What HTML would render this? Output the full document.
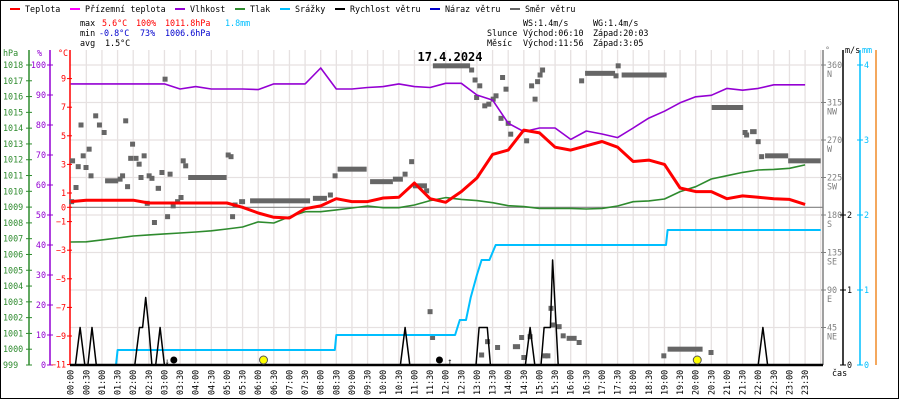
<!DOCTYPE html>
<html><head><meta charset="utf-8">
<style>
html,body{margin:0;padding:0;background:#fff;}
svg{display:block;font-family:"DejaVu Sans Mono","Liberation Mono",monospace;}
text{font-size:8.4px;}
</style></head>
<body>
<svg id="chart" width="900" height="400" viewBox="0 0 900 400" xmlns="http://www.w3.org/2000/svg">
<rect x="0.5" y="0.5" width="898" height="398" fill="#fff" stroke="#000"/>
<g id="grid"></g>
<g id="axes"></g>
<g id="series"></g>
<g id="header">
  <g>
    <g><rect x="10" y="8" width="10" height="2" fill="#f00"/><text x="25" y="12">Teplota</text></g>
    <g><rect x="70" y="8" width="10" height="2" fill="#f0f"/><text x="85" y="12">Přízemní teplota</text></g>
    <g><rect x="175" y="8" width="10" height="2" fill="#9400d3"/><text x="190" y="12">Vlhkost</text></g>
    <g><rect x="235" y="8" width="10" height="2" fill="#2e8b2e"/><text x="250" y="12">Tlak</text></g>
    <g><rect x="280" y="8" width="10" height="2" fill="#00bfff"/><text x="295" y="12">Srážky</text></g>
    <g><rect x="335" y="8" width="10" height="2" fill="#000"/><text x="350" y="12">Rychlost větru</text></g>
    <g><rect x="430" y="8" width="10" height="2" fill="#0000cd"/><text x="445" y="12">Náraz větru</text></g>
    <g><rect x="510" y="8" width="10" height="2" fill="#666"/><text x="525" y="12">Směr větru</text></g>
  </g>
  <g>
    <text x="80" y="26">max</text><text x="102" y="26" fill="#f00">5.6°C</text><text x="136" y="26" fill="#f00">100%</text><text x="165" y="26" fill="#f00">1011.8hPa</text><text x="225" y="26" fill="#00bfff">1.8mm</text>
    <text x="80" y="36">min</text><text x="99" y="36" fill="#0000cd">-0.8°C</text><text x="140" y="36" fill="#0000cd">73%</text><text x="165" y="36" fill="#0000cd">1006.6hPa</text>
    <text x="80" y="46">avg</text><text x="105" y="46">1.5°C</text>
  </g>
  <g>
    <text x="523" y="26">WS:1.4m/s</text><text x="593" y="26">WG:1.4m/s</text>
    <text x="487" y="36">Slunce</text><text x="523" y="36">Východ:06:10</text><text x="593" y="36">Západ:20:03</text>
    <text x="487" y="46">Měsíc</text><text x="523" y="46">Východ:11:56</text><text x="593" y="46">Západ:3:05</text>
  </g>
  <text x="450" y="61" text-anchor="middle" style="font-size:12px;font-weight:bold">17.4.2024</text>
</g>
</svg>
<script>
// ---- data (half-hourly, 00:00 .. 23:30) ----
const hours = [0,0.5,1,1.5,2,2.5,3,3.5,4,4.5,5,5.5,6,6.5,7,7.5,8,8.5,9,9.5,10,10.5,11,11.5,12,12.5,13,13.5,14,14.5,15,15.5,16,16.5,17,17.5,18,18.5,19,19.5,20,20.5,21,21.5,22,22.5,23,23.5];
const temperature = [0.4,0.5,0.5,0.5,0.5,0.3,0.3,0.3,0.3,0.3,0.3,0.0,-0.4,-0.7,-0.75,-0.1,0.1,0.6,0.4,0.4,0.65,0.7,1.7,0.6,0.35,1.1,2.05,3.7,4.0,5.4,5.2,4.2,4.0,4.3,4.6,4.2,3.2,3.3,3.0,1.35,1.1,1.1,0.6,0.8,0.7,0.6,0.55,0.2];
const humidity = [93.7,93.7,93.7,93.7,93.7,93.7,93.7,92,92.8,92,92,92,91.8,93.7,93.7,93.7,99,92,92,92.5,92.8,93.7,92.8,92.5,93.9,93.9,90,88.3,80.6,77.8,79,79,75.2,78,77,75.8,79,82.3,84.6,87.4,89.4,89.9,92.2,91.6,92.2,93.4,93.4,93.4];
const pressure = [1006.79,1006.8,1006.92,1007.04,1007.17,1007.24,1007.3,1007.36,1007.42,1007.5,1007.61,1007.74,1008.06,1007.99,1008.39,1008.71,1008.71,1008.82,1008.94,1009.07,1008.96,1008.96,1009.13,1009.41,1009.6,1009.49,1009.41,1009.28,1009.09,1009.03,1008.92,1008.92,1008.92,1008.88,1008.92,1009.07,1009.34,1009.39,1009.51,1009.98,1010.29,1010.78,1010.99,1011.2,1011.35,1011.39,1011.46,1011.67];
const precipTimes = [0,1.45,1.5,8.45,8.5,12.3,12.45,12.65,12.8,13.0,13.15,13.4,13.6,19.05,19.1,24];
const precipValues = [0,0,0.2,0.2,0.4,0.4,0.6,0.6,0.9,1.2,1.4,1.4,1.6,1.6,1.8,1.8];
const windTimes = [0,0.15,0.3,0.45,0.55,0.68,0.82,2.05,2.2,2.3,2.4,2.5,2.6,2.72,2.86,3.0,10.55,10.7,10.85,12.97,13.07,13.33,13.43,14.55,14.7,14.85,15.05,15.15,15.35,15.42,15.6,22.0,22.15,22.3,24];
const windValues = [0,0,0.5,0,0,0.5,0,0,0.5,0.5,0.9,0.5,0,0,0.5,0,0,0.5,0,0,0.5,0.5,0,0,0.5,0,0,0.5,0.5,1.4,0,0,0.5,0,0];
const dirTimes = [0.03,0.06,0.17,0.24,0.33,0.40,0.49,0.59,0.65,0.92,1.58,1.66,1.76,1.82,1.92,1.98,2.09,2.19,2.25,2.35,2.45,2.51,2.60,2.68,2.92,3.02,3.10,3.18,3.28,3.53,3.60,3.68,5.04,5.13,5.18,5.26,8.46,10.70,10.91,11.39,12.83,12.94,12.99,13.09,13.25,13.38,13.52,13.61,13.77,13.82,13.93,14.00,14.08,14.59,14.75,14.86,14.94,15.02,15.10,16.35,17.45,17.52,21.58,21.63,22.0,22.11,11.5,11.58,13.15,13.34,13.66,14.43,14.5,14.7,15.18,15.27,15.37,15.42,15.76,16.27,18.98,20.49];
const dirDegrees = [196,245,213,238,288,251,237,259,227,288,223,227,293,214,248,265,248,241,225,251,194,227,224,171,231,343,178,229,191,201,245,239,252,250,178,192,227,229,244,209,354,342,321,335,311,313,319,323,296,345,331,290,277,269,335,319,340,348,354,341,347,359,279,276,268,250,64,33,12,28,21,33,9,34,11,11,68,48,35,27,11,15];
const dirRunStart = [0.72,0.99,1.10,2.72,3.34,3.76,5.39,5.74,7.75,8.23,8.54,9.58,10.31,10.95,11.59,16.46,17.63,20.51,21.74,22.22,22.96,15.55,15.87,14.15,19.1];
const dirRunEnd = [0.88,1.15,1.52,2.89,3.50,4.99,5.58,7.66,8.20,8.39,9.47,10.31,10.63,11.40,12.78,17.42,19.07,21.52,21.95,22.96,24.0,15.71,16.19,14.38,20.22];
const dirRunDeg = [299,279,221,212,196,225,196,197,200,204,235,220,223,215,359,350,348,309,280,251,245,46,32,22,19];
const timeLabels = ["00:00","00:30","01:00","01:30","02:00","02:30","03:00","03:30","04:00","04:30","05:00","05:30","06:00","06:30","07:00","07:30","08:00","08:30","09:00","09:30","10:00","10:30","11:00","11:30","12:00","12:30","13:00","13:30","14:00","14:30","15:00","15:30","16:00","16:30","17:00","17:30","18:00","18:30","19:00","19:30","20:00","20:30","21:00","21:30","22:00","22:30","23:00","23:30"];
const hpaTicks = [999,1000,1001,1002,1003,1004,1005,1006,1007,1008,1009,1010,1011,1012,1013,1014,1015,1016,1017,1018];
const pctTicks = [0,10,20,30,40,50,60,70,80,90,100];
const tempTicks = [-11,-9,-7,-5,-3,-1,0,1,3,5,7,9];
const degTicks = [45,90,135,180,225,270,315,360];
const degNames = ["NE","E","SE","S","SW","W","NW","N"];
const msTicks = [0,1,2];
const mmTicks = [0,1,2,3,4];

// ---- scales ----
const X0=70.7, X1=820.7, YB=365, YT=65;
const xT = h => X0 + h*(X1-X0)/24;
const yTemp = t => 207.3 - t*14.3;
const yPct = p => YB - p*3;
const yHpa = p => YB - (p-999)*15.79;
const yDeg = d => YB - d*300/360;
const yMs = v => YB - v*75;
const yMm = v => YB - v*75;

const NS="http://www.w3.org/2000/svg";
function mk(tag, attrs, parent){const e=document.createElementNS(NS,tag);for(const k in attrs)e.setAttribute(k,attrs[k]);parent.appendChild(e);return e;}
const grid=document.getElementById('grid'), axes=document.getElementById('axes'), series=document.getElementById('series');

// grid
for(let i=1;i<=48;i++){const x=X0+i*(X1-X0)/48;
  const l=mk('line',{x1:x,y1:50,x2:x,y2:YB,stroke:'#e6e1e1','stroke-width':1.3},grid);
  
  }
for(let y=YT;y<YB;y+=37.5){
  const l=mk('line',{x1:70,y1:y,x2:823,y2:y,stroke:'#e6e1e1','stroke-width':1.3},grid);
  
  }
const zl=mk('line',{x1:70,y1:yTemp(0),x2:823,y2:yTemp(0),stroke:'#808080','stroke-width':1.2},grid);



// axes
function vAxis(x,color,name,y1){const l=mk('line',{x1:x,y1:y1,x2:x,y2:YB,stroke:color,'stroke-width':1.5},axes);
  
  }
vAxis(29,'#2e8b2e','hpa-axis',50);vAxis(50,'#9400d3','humidity-axis',50);vAxis(70,'#f00','temperature-axis',50);
vAxis(823,'#808080','direction-axis',50);vAxis(843,'#000','wind-speed-axis',50);vAxis(860,'#00bfff','precip-axis',50);vAxis(876,'#f08c28','orange-axis',50);
function tickLabel(x,y,txt,color,anchor,name){const t=mk('text',{x:x,y:y,fill:color,'text-anchor':anchor},axes);t.textContent=txt;
  
  }
tickLabel(3,56,'hPa','#2e8b2e','start','hpa-unit');tickLabel(37,56,'%','#9400d3','start','humidity-unit');tickLabel(58,56,'°C','#f00','start','temp-unit');
tickLabel(825,53,'°','#808080','start','deg-unit');tickLabel(845,53,'m/s','#000','start','ms-unit');tickLabel(862,53,'mm','#00bfff','start','mm-unit');
hpaTicks.forEach(v=>{const y=yHpa(v);mk('line',{x1:26,y1:y,x2:32,y2:y,stroke:'#2e8b2e'},axes);tickLabel(3,y+3,String(v),'#2e8b2e','start','hpa-tick-label');});
pctTicks.forEach(v=>{const y=yPct(v);mk('line',{x1:47,y1:y,x2:53,y2:y,stroke:'#9400d3'},axes);tickLabel(46,y+3,String(v),'#9400d3','end','humidity-tick-label');});
tempTicks.forEach(v=>{const y=yTemp(v);mk('line',{x1:67,y1:y,x2:72,y2:y,stroke:'#f00'},axes);tickLabel(66,y+3,String(v).replace('-','−'),'#f00','end','temp-tick-label');});
degTicks.forEach((v,i)=>{const y=yDeg(v);mk('line',{x1:821,y1:y,x2:826,y2:y,stroke:'#808080'},axes);tickLabel(827,y+3,String(v),'#808080','start','direction-tick-label');tickLabel(827,y+12,degNames[i],'#808080','start','direction-name-label');});
msTicks.forEach(v=>{const y=yMs(v);mk('line',{x1:840,y1:y,x2:846,y2:y,stroke:'#000'},axes);tickLabel(847,y+3,String(v),'#000','start','wind-tick-label');});
mmTicks.forEach(v=>{const y=yMm(v);mk('line',{x1:857,y1:y,x2:863,y2:y,stroke:'#00bfff'},axes);tickLabel(864,y+3,String(v),'#00bfff','start','precip-tick-label');});
timeLabels.forEach((s,i)=>{const x=xT(hours[i]);const t=mk('text',{x:0,y:0,transform:`translate(${x+3},395) rotate(-90)`,fill:'#000'},axes);t.textContent=s;
  
  });
tickLabel(832,376,'čas','#000','start','time-axis-title');

// series
function poly(pts,color,w,name){const p=mk('polyline',{points:pts.map(a=>a[0].toFixed(1)+','+a[1].toFixed(1)).join(' '),fill:'none',stroke:color,'stroke-width':w,'stroke-linejoin':'round'},series);
  
  }
// wind direction
dirRunStart.forEach((s,i)=>{const r=mk('rect',{x:xT(s),y:yDeg(dirRunDeg[i])-2.5,width:Math.max(5,xT(dirRunEnd[i])-xT(s)),height:5,fill:'#666'},series);
  
  });
dirTimes.forEach((h,i)=>{const r=mk('rect',{x:xT(h)-2.5,y:yDeg(dirDegrees[i])-2.5,width:5,height:5,fill:'#666'},series);
  
  });
// precip step line
const pp=[];precipTimes.forEach((h,i)=>{pp.push([xT(h),yMm(precipValues[i])]);});
poly(pp,'#00bfff',2,'precip-line');
poly(hours.map((h,i)=>[xT(h),yHpa(pressure[i])]),'#2e8b2e',1.6,'pressure-line');
poly(hours.map((h,i)=>[xT(h),yPct(humidity[i])]),'#9400d3',1.6,'humidity-line');
poly(hours.map((h,i)=>[xT(h),yTemp(temperature[i])]),'#f00',3,'temperature-line');
poly(windTimes.map((h,i)=>[xT(h),yMs(windValues[i])]),'#000',1.5,'wind-speed-line');
const bl=mk('line',{x1:70,y1:YB,x2:823,y2:YB,stroke:'#000','stroke-width':2.5},series);


// sun / moon markers
const mk1=mk('circle',{cx:xT(3.3),cy:360,r:3.5,fill:'#000'},series);


const mk2=mk('circle',{cx:xT(6.17),cy:360,r:4,fill:'#ff0',stroke:'#555'},series);


const mk3=mk('circle',{cx:xT(11.8),cy:360,r:3.5,fill:'#000'},series);


const mk4=mk('circle',{cx:xT(20.05),cy:360,r:4,fill:'#ff0',stroke:'#555'},series);


const a1=mk('text',{x:xT(12.05),y:364,'font-size':'9'},series);a1.textContent='↑';


const a2=mk('text',{x:xT(3.0),y:364,'font-size':'9'},series);a2.textContent='↓';


</script>
</body></html>
